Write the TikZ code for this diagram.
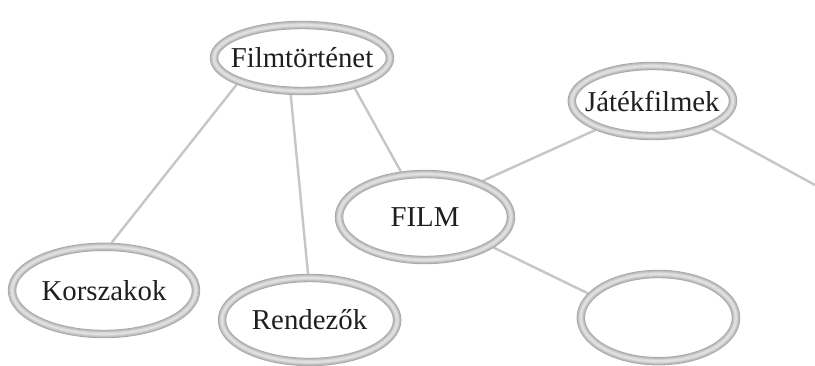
\documentclass[tikz,border=0pt]{standalone}
\usepackage{fontspec}
\setmainfont{Liberation Serif}
\usepackage{tikz}
\usetikzlibrary{shapes.geometric, backgrounds}

\begin{document}
\begin{tikzpicture}[
    bubble/.style={ellipse, draw=gray!68, line width=0.21cm, fill=white, inner sep=0pt,
        postaction={draw=gray!56, line width=0.17cm},
        postaction={draw=gray!45, line width=0.13cm},
        postaction={draw=gray!34, line width=0.09cm},
        postaction={draw=gray!24, line width=0.05cm},
        label={[font=\fontsize{20.5}{24}\selectfont, text=black!88]center:#1}},
    link/.style={draw=gray!45, line width=0.06cm}
]
\useasboundingbox (0, 0) rectangle (20.375, -9.15);

\node[bubble=Filmtörténet, minimum width=4.4cm, minimum height=1.65cm] (hist) at (7.55, -1.45) {};
\node[bubble=Játékfilmek, minimum width=4.03cm, minimum height=1.75cm] (feat) at (16.31, -2.525) {};
\node[bubble=FILM, minimum width=4.3cm, minimum height=2.15cm] (film) at (10.625, -5.425) {};
\node[bubble=Korszakok, minimum width=4.6cm, minimum height=2.18cm] (eras) at (2.6, -7.26) {};
\node[bubble=Rendezők, minimum width=4.38cm, minimum height=2.1cm] (dirs) at (7.74, -8.0) {};
\node[bubble={}, minimum width=3.88cm, minimum height=2.18cm] (blank) at (16.46, -7.94) {};
\coordinate (off) at (20.375, -4.625);

\begin{scope}[on background layer]
\draw[link] (hist.202) -- (eras.81);
\draw[link] (hist.253) -- (dirs.92);
\draw[link] (hist.330) -- (film.118);
\draw[link] (film.32) -- (feat.207);
\draw[link] (feat.335) -- (off);
\draw[link] (film.336) -- (blank.161);
\end{scope}

\end{tikzpicture}
\end{document}
